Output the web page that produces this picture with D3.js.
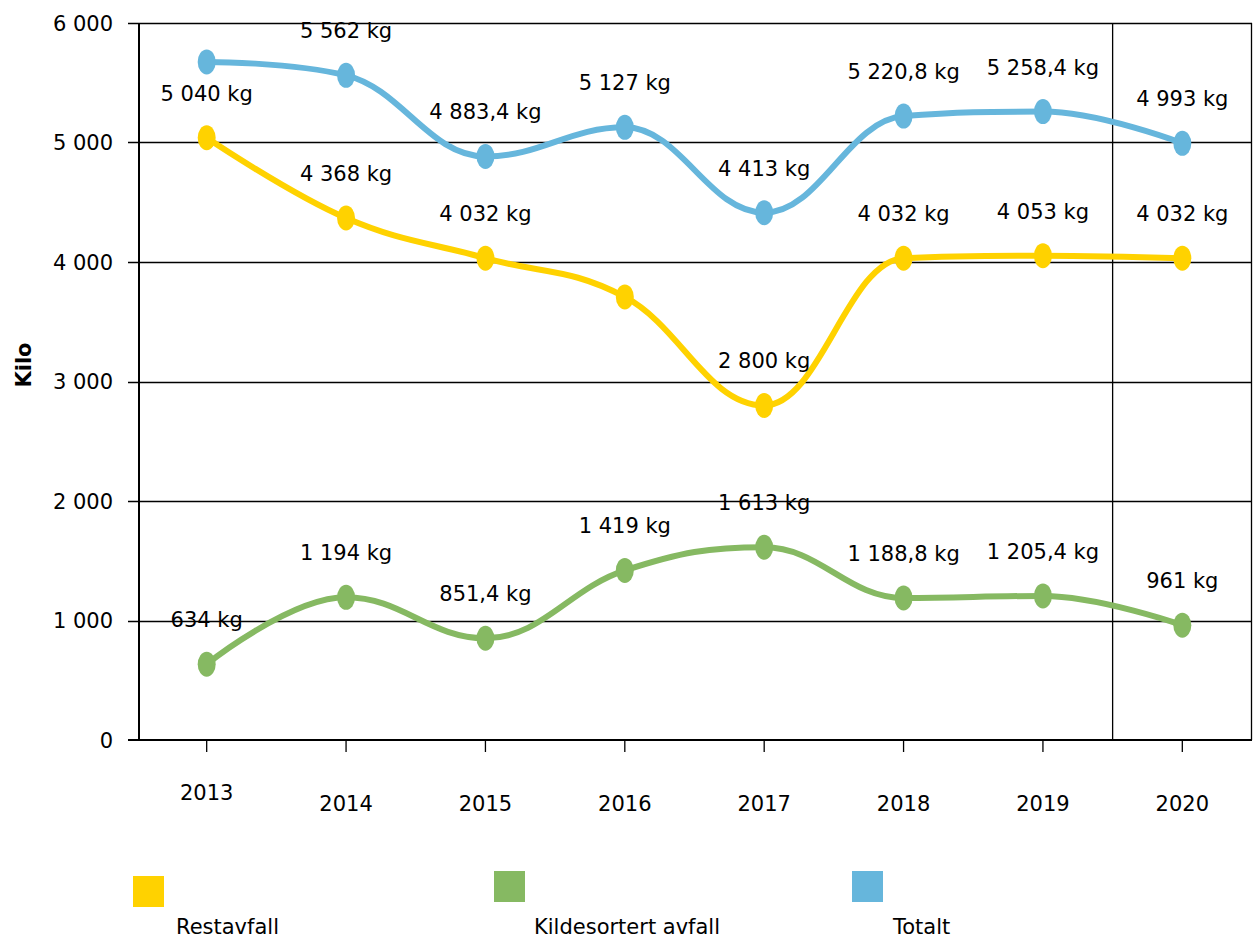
<!DOCTYPE html>
<html>
<head>
<meta charset="utf-8">
<script src="https://cdn.jsdelivr.net/npm/d3@7"></script>
<style>
  body { margin: 0; background: #fff; }
  svg { display: block; font-family: "DejaVu Sans", Verdana, sans-serif; }
</style>
</head>
<body>
<svg id="chart" width="1253" height="939"></svg>
<script>
// data
const years = ["2013", "2014", "2015", "2016", "2017", "2018", "2019", "2020"];
const restavfall = [5040, 4368, 4032, 3708, 2800, 4032, 4053, 4032];
const kildesortert = [634, 1194, 851.4, 1419, 1613, 1188.8, 1205.4, 961];
const totalt = [5674, 5562, 4883.4, 5127, 4413, 5220.8, 5258.4, 4993];
const yTicks = [0, 1000, 2000, 3000, 4000, 5000, 6000];

// points without a value label in the original
const hiddenRest = ["2016"];
const hiddenTotal = ["2013"];
const hiddenKilde = [];

const seriesNames = ["Restavfall", "Kildesortert avfall", "Totalt"];
const colors = ["#FFD200", "#86B962", "#66B6DC"];

//-----------------------------------------------------//

const fontSize = "21px";
const svg = d3.select("#chart");

const x = d3.scaleBand().domain(years).range([137, 1252]);
const y = d3.scaleLinear().domain([0, 6000]).range([740, 23]);
const cx = d => x(d) + x.bandwidth() / 2;

const locale = d3.formatLocale({ decimal: ",", thousands: "\u00a0", grouping: [3], currency: ["", ""] });
const fmtTick = locale.format(",");
const fmtVal = locale.format(",.1~f");

// smooth spline with control points clamped so no false extremes appear
function splinePath(pts)
{
  const s = 1.5, den = s + 1;
  const ctrl = pts.map(function(pt, i) {
    if (i == 0 || i == pts.length - 1) return { lx: pt[0], ly: pt[1], rx: pt[0], ry: pt[1] };
    let last = pts[i - 1], next = pts[i + 1];
    let lx = (s * pt[0] + last[0]) / den, ly = (s * pt[1] + last[1]) / den;
    let rx = (s * pt[0] + next[0]) / den, ry = (s * pt[1] + next[1]) / den;
    if (rx !== lx) {
      let c = ((ry - ly) * (rx - pt[0])) / (rx - lx) + pt[1] - ry;
      ly += c; ry += c;
    }
    if (ly > last[1] && ly > pt[1]) { ly = Math.max(last[1], pt[1]); ry = 2 * pt[1] - ly; }
    else if (ly < last[1] && ly < pt[1]) { ly = Math.min(last[1], pt[1]); ry = 2 * pt[1] - ly; }
    if (ry > next[1] && ry > pt[1]) { ry = Math.max(next[1], pt[1]); ly = 2 * pt[1] - ry; }
    else if (ry < next[1] && ry < pt[1]) { ry = Math.min(next[1], pt[1]); ly = 2 * pt[1] - ry; }
    return { lx: lx, ly: ly, rx: rx, ry: ry };
  });

  const p = d3.path();
  p.moveTo(pts[0][0], pts[0][1]);
  for (let i = 1; i < pts.length; i++) {
    p.bezierCurveTo(ctrl[i - 1].rx, ctrl[i - 1].ry, ctrl[i].lx, ctrl[i].ly, pts[i][0], pts[i][1]);
  }
  return p.toString();
}

// gridlines
svg.append("g")
  .selectAll("line")
  .data(yTicks.slice(1))
  .enter().append("line")
  .attr("x1", 128).attr("x2", 1252)
  .attr("y1", d => Math.round(y(d)) + 0.5)
  .attr("y2", d => Math.round(y(d)) + 0.5)
  .attr("stroke", "#000")
  .attr("stroke-width", 1.3);

// y tick mark on zero line
svg.append("line")
  .attr("x1", 128).attr("x2", 139)
  .attr("y1", y(0)).attr("y2", y(0))
  .attr("stroke", "#000").attr("stroke-width", 1.3);

// vertical divider before the last year + right border
svg.append("line")
  .attr("x1", x("2020")).attr("x2", x("2020"))
  .attr("y1", y(6000)).attr("y2", y(0))
  .attr("stroke", "#000").attr("stroke-width", 1.3);
svg.append("line")
  .attr("x1", 1251.5).attr("x2", 1251.5)
  .attr("y1", y(6000)).attr("y2", y(0))
  .attr("stroke", "#000").attr("stroke-width", 1.3);

// axes lines
svg.append("line")
  .attr("x1", 139).attr("x2", 139)
  .attr("y1", y(6000)).attr("y2", y(0))
  .attr("stroke", "#000").attr("stroke-width", 2);
svg.append("line")
  .attr("x1", 128).attr("x2", 1252)
  .attr("y1", y(0)).attr("y2", y(0))
  .attr("stroke", "#000").attr("stroke-width", 2);

// x tick marks
svg.append("g")
  .selectAll("line")
  .data(years)
  .enter().append("line")
  .attr("x1", d => cx(d)).attr("x2", d => cx(d))
  .attr("y1", y(0)).attr("y2", y(0) + 12)
  .attr("stroke", "#000").attr("stroke-width", 1.3);

// y tick labels
svg.append("g")
  .selectAll("text")
  .data(yTicks)
  .enter().append("text")
  .attr("x", 113)
  .attr("y", d => y(d))
  .attr("dy", "0.36em")
  .attr("text-anchor", "end")
  .style("font-size", fontSize)
  .text(d => fmtTick(d));

// x tick labels (first one sits a bit higher, as in the original)
svg.append("g")
  .selectAll("text")
  .data(years)
  .enter().append("text")
  .attr("x", d => cx(d))
  .attr("y", (d, i) => i == 0 ? 800 : 811)
  .attr("text-anchor", "middle")
  .style("font-size", fontSize)
  .text(d => d);

// y axis title
svg.append("text")
  .attr("transform", "translate(31,365) rotate(-90)")
  .attr("text-anchor", "middle")
  .style("font-size", fontSize)
  .style("font-weight", "bold")
  .text("Kilo");

// series
const series = [
  { name: seriesNames[0], values: restavfall, color: colors[0], hidden: hiddenRest },
  { name: seriesNames[1], values: kildesortert, color: colors[1], hidden: hiddenKilde },
  { name: seriesNames[2], values: totalt, color: colors[2], hidden: hiddenTotal }
];

series.forEach(function(s)
{
  let pts = years.map((yr, i) => ({ year: yr, value: s.values[i] }));
  let g = svg.append("g");

  g.append("path")
    .attr("d", splinePath(pts.map(d => [cx(d.year), y(d.value)])))
    .attr("fill", "none")
    .attr("stroke", s.color)
    .attr("stroke-width", 6)
    .attr("stroke-linejoin", "round");

  g.selectAll("ellipse")
    .data(pts)
    .enter().append("ellipse")
    .attr("cx", d => cx(d.year))
    .attr("cy", d => y(d.value))
    .attr("rx", 9)
    .attr("ry", 12.5)
    .attr("fill", s.color);
});

// value labels
series.forEach(function(s)
{
  let pts = years.map((yr, i) => ({ year: yr, value: s.values[i] }))
    .filter(d => s.hidden.indexOf(d.year) < 0);
  svg.append("g")
    .selectAll("text")
    .data(pts)
    .enter().append("text")
    .attr("x", d => cx(d.year))
    .attr("y", d => y(d.value) - 37)
    .attr("text-anchor", "middle")
    .style("font-size", fontSize)
    .text(d => fmtVal(d.value) + " kg");
});

// legend
const legendX = [133, 494, 852];
const legendY = [876, 871, 871];
const legendTextX = [176, 534, 893];

series.forEach(function(s, i)
{
  svg.append("rect")
    .attr("x", legendX[i]).attr("y", legendY[i])
    .attr("width", 31).attr("height", 31)
    .attr("fill", s.color);
  svg.append("text")
    .attr("x", legendTextX[i]).attr("y", 934)
    .style("font-size", fontSize)
    .text(s.name);
});
</script>
</body>
</html>
